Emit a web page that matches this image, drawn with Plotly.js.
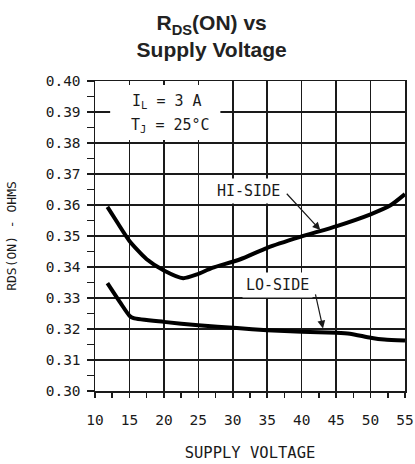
<!DOCTYPE html>
<html>
<head>
<meta charset="utf-8">
<script src="https://cdn.plot.ly/plotly-3.0.1.min.js"></script>
<style>html,body{margin:0;padding:0;background:#fff;}#chart{width:415px;height:464px;}</style>
</head>
<body>
<div id="chart"></div>
<script>
// Supply voltage (V) and RDS(ON) (ohms)
var hiVoltage = [11.8, 13.2, 15, 17.5, 20, 22.8, 24.8, 27, 31.1, 35, 39.8, 45.1, 50, 52.9, 55];
var hiRds     = [0.3594, 0.3545, 0.3484, 0.3425, 0.3389, 0.3364, 0.3376, 0.3397, 0.3425, 0.3462, 0.3497, 0.3532, 0.3570, 0.3599, 0.3635];
var loVoltage = [11.8, 13.7, 15, 15.6, 20, 25, 30.6, 35, 40, 45, 47, 50, 52, 55];
var loRds     = [0.3348, 0.3284, 0.3243, 0.3235, 0.3223, 0.3212, 0.3203, 0.3196, 0.3191, 0.3188, 0.3185, 0.3172, 0.3166, 0.3163];
var xTicks = [10, 15, 20, 25, 30, 35, 40, 45, 50, 55];
var yTicks = [0.30, 0.31, 0.32, 0.33, 0.34, 0.35, 0.36, 0.37, 0.38, 0.39, 0.40];

var mono = 'DejaVu Sans Mono';
var ink = '#1a1a1a';

var traces = [
  {x: hiVoltage, y: hiRds, mode: 'lines', name: 'HI-SIDE',
   line: {color: '#000', width: 4, shape: 'spline', smoothing: 0.6}, hoverinfo: 'skip'},
  {x: loVoltage, y: loRds, mode: 'lines', name: 'LO-SIDE',
   line: {color: '#000', width: 4, shape: 'spline', smoothing: 0.6}, hoverinfo: 'skip'}
];

var layout = {
  width: 415, height: 464,
  margin: {l: 94.5, r: 10, t: 81, b: 73},
  paper_bgcolor: '#fff', plot_bgcolor: '#fff',
  showlegend: false,
  title: {
    text: 'R<sub>DS</sub>(ON) vs<br>Supply Voltage',
    x: 0.51, xref: 'container', xanchor: 'center',
    y: 0.935, yref: 'container', yanchor: 'top',
    font: {family: 'Liberation Sans, Arial, sans-serif', size: 21, color: '#222', weight: 'bold'}
  },
  xaxis: {
    range: [10, 55], tickvals: xTicks, ticktext: xTicks.map(String),
    showgrid: true, gridcolor: ink, gridwidth: 1.5,
    showline: true, linecolor: ink, linewidth: 1.5, mirror: true,
    ticks: 'outside', ticklen: 5, tickwidth: 1.5, tickcolor: ink,
    minor: {dtick: 2.5, ticks: 'outside', ticklen: 5, tickwidth: 1.5, tickcolor: ink, showgrid: false},
    ticklabelstandoff: 10,
    tickfont: {family: mono, size: 14.5, color: ink},
    zeroline: false, fixedrange: true,
    title: {text: 'SUPPLY VOLTAGE', font: {family: mono, size: 15.5, color: ink}, standoff: 20}
  },
  yaxis: {
    range: [0.30, 0.40], tickvals: yTicks, ticktext: yTicks.map(function(v){return v.toFixed(2);}),
    showgrid: true, gridcolor: ink, gridwidth: 1.5,
    showline: true, linecolor: ink, linewidth: 1.5, mirror: true,
    ticks: 'outside', ticklen: 7, tickwidth: 1.5, tickcolor: ink,
    minor: {dtick: 0.005, tick0: 0.305, ticks: 'outside', ticklen: 7, tickwidth: 1.5, tickcolor: ink, showgrid: false},
    ticklabelstandoff: 3,
    tickfont: {family: mono, size: 14.5, color: ink},
    zeroline: false, fixedrange: true,
    title: {text: 'RDS(ON) - OHMS', font: {family: mono, size: 13, color: ink}, standoff: 26}
  },
  shapes: [
    {type: 'rect', xref: 'x', yref: 'y', x0: 12.2, x1: 28.2, y0: 0.381, y1: 0.3987,
     fillcolor: '#fff', line: {width: 0}, layer: 'above'}
  ],
  annotations: [
    {xref: 'x', yref: 'y', x: 20.4, y: 0.3935, text: 'I<sub>L</sub> = 3 A', showarrow: false,
     font: {family: mono, size: 15, color: ink}},
    {xref: 'x', yref: 'y', x: 21.0, y: 0.3855, text: 'T<sub>J</sub> = 25°C', showarrow: false,
     font: {family: mono, size: 15, color: ink}},
    {xref: 'x', yref: 'y', x: 32.25, y: 0.3645, text: 'HI-SIDE', showarrow: false,
     bgcolor: '#fff', borderpad: 3, font: {family: mono, size: 15, color: ink}},
    {xref: 'x', yref: 'y', x: 36.47, y: 0.3342, text: 'LO-SIDE', showarrow: false,
     bgcolor: '#fff', borderpad: 3, font: {family: mono, size: 15, color: ink}},
    {xref: 'x', yref: 'y', x: 42.7, y: 0.3519, ax: -35, ay: -38, text: ' ', showarrow: true,
     arrowhead: 2, arrowsize: 1.3, arrowwidth: 1.2, arrowcolor: ink, font: {size: 1}},
    {xref: 'x', yref: 'y', x: 43.1, y: 0.3202, ax: -8, ay: -36, text: ' ', showarrow: true,
     arrowhead: 2, arrowsize: 1.3, arrowwidth: 1.2, arrowcolor: ink, font: {size: 1}}
  ]
};

Plotly.newPlot('chart', traces, layout, {staticPlot: true, displayModeBar: false});
</script>
</body>
</html>
